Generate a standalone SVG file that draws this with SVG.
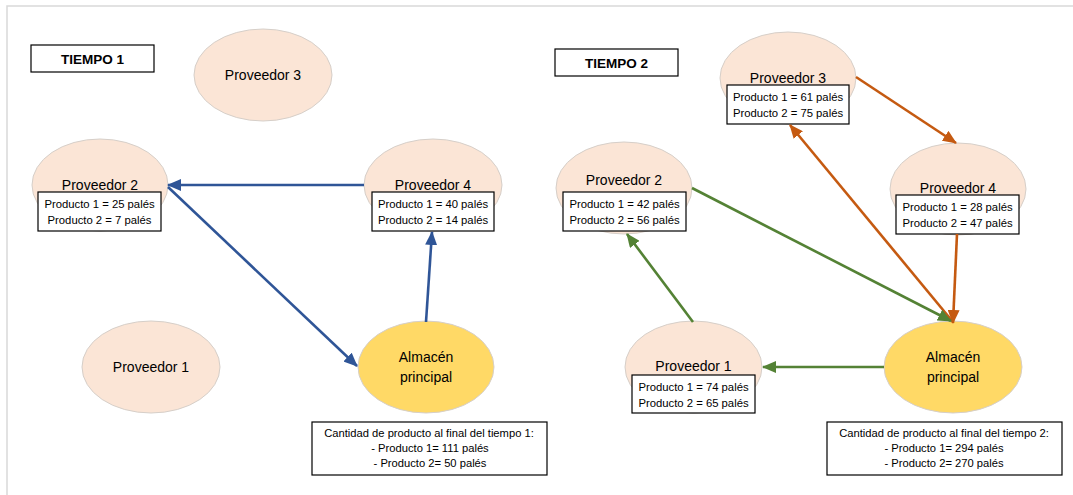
<svg xmlns="http://www.w3.org/2000/svg" width="1073" height="495" viewBox="0 0 1073 495">
<style>
.bg{fill:#ffffff}
.frame{fill:none;stroke:#d9d9d9;stroke-width:1.5}
.sup{fill:#FBE5D6;stroke:#d6cfc9;stroke-width:1}
.alm{fill:#FFD966;stroke:#d6cfc9;stroke-width:1}
.box{fill:#ffffff;stroke:#000000;stroke-width:1.2}
.t{font-family:"Liberation Sans",Arial,sans-serif;fill:#000;text-anchor:middle}
.lbl{font-size:14px}
.small{font-size:11.3px}
.sum{font-size:11.2px}
.title{font-size:13.5px;font-weight:bold}
.blue{stroke:#2F5597;stroke-width:2.6;fill:none}
.green{stroke:#548235;stroke-width:2.6;fill:none}
.orange{stroke:#C55A11;stroke-width:2.6;fill:none}
</style>
<defs>
<marker id="mb" markerWidth="14" markerHeight="12" refX="13" refY="6" orient="auto" markerUnits="userSpaceOnUse"><path d="M0,0 L14,6 L0,12 Z" fill="#2F5597"/></marker>
<marker id="mg" markerWidth="14" markerHeight="12" refX="13" refY="6" orient="auto" markerUnits="userSpaceOnUse"><path d="M0,0 L14,6 L0,12 Z" fill="#548235"/></marker>
<marker id="mo" markerWidth="14" markerHeight="12" refX="13" refY="6" orient="auto" markerUnits="userSpaceOnUse"><path d="M0,0 L14,6 L0,12 Z" fill="#C55A11"/></marker>
</defs>
<rect class="bg" x="0" y="0" width="1073" height="495"/>
<path class="frame" d="M7,500 L7,6 L1080,6"/>

<!-- TIEMPO 1 -->
<g id="t1-title"><rect class="box" x="31" y="45" width="123" height="27"/><text class="t title" x="92.5" y="63.5">TIEMPO 1</text></g>
<g id="t1-p3"><ellipse class="sup" cx="263" cy="75" rx="69" ry="46"/><text class="t lbl" x="263" y="80">Proveedor 3</text></g>
<g id="t1-p2"><ellipse class="sup" cx="100" cy="185" rx="68" ry="46"/><text class="t lbl" x="100" y="190">Proveedor 2</text>
<rect class="box" x="38" y="192" width="123" height="39"/><text class="t small" x="99.5" y="208">Producto 1 = 25 palés</text><text class="t small" x="99.5" y="224">Producto 2 = 7 palés</text></g>
<g id="t1-p4"><ellipse class="sup" cx="433" cy="185" rx="69" ry="46"/><text class="t lbl" x="433" y="190">Proveedor 4</text>
<rect class="box" x="372" y="192" width="122" height="39"/><text class="t small" x="433" y="208">Producto 1 = 40 palés</text><text class="t small" x="433" y="224">Producto 2 = 14 palés</text></g>
<g id="t1-p1"><ellipse class="sup" cx="151" cy="367" rx="69" ry="46"/><text class="t lbl" x="151" y="372">Proveedor 1</text></g>
<g id="t1-alm"><ellipse class="alm" cx="426" cy="367" rx="68" ry="46"/><text class="t lbl" x="426" y="362">Almacén</text><text class="t lbl" x="426" y="382">principal</text></g>
<g id="t1-sum"><rect class="box" x="312" y="422" width="235" height="53"/>
<text class="t sum" x="429" y="437">Cantidad de producto al final del tiempo 1:</text>
<text class="t sum" x="430" y="452">- Producto 1= 111 palés</text>
<text class="t sum" x="430" y="467">- Producto 2= 50 palés</text></g>

<!-- TIEMPO 2 -->
<g id="t2-title"><rect class="box" x="555" y="49" width="123" height="27"/><text class="t title" x="616.5" y="67.5">TIEMPO 2</text></g>
<g id="t2-p3"><ellipse class="sup" cx="788" cy="78" rx="68" ry="46"/><text class="t lbl" x="788" y="83">Proveedor 3</text>
<rect class="box" x="727" y="85" width="122" height="39"/><text class="t small" x="788" y="101">Producto 1 = 61 palés</text><text class="t small" x="788" y="117">Producto 2 = 75 palés</text></g>
<g id="t2-p2"><ellipse class="sup" cx="624" cy="188" rx="68" ry="46"/><text class="t lbl" x="624" y="185">Proveedor 2</text>
<rect class="box" x="563" y="192" width="123" height="39"/><text class="t small" x="624.5" y="208">Producto 1 = 42 palés</text><text class="t small" x="624.5" y="224">Producto 2 = 56 palés</text></g>
<g id="t2-p4"><ellipse class="sup" cx="958" cy="189" rx="68" ry="46"/><text class="t lbl" x="958" y="193">Proveedor 4</text>
<rect class="box" x="896" y="195" width="123" height="39"/><text class="t small" x="957.5" y="211">Producto 1 = 28 palés</text><text class="t small" x="957.5" y="227">Producto 2 = 47 palés</text></g>
<g id="t2-p1"><ellipse class="sup" cx="693.5" cy="367" rx="68.5" ry="46"/><text class="t lbl" x="693.5" y="371">Proveedor 1</text>
<rect class="box" x="632" y="375" width="123" height="38"/><text class="t small" x="693.5" y="391">Producto 1 = 74 palés</text><text class="t small" x="693.5" y="407">Producto 2 = 65 palés</text></g>
<g id="t2-alm"><ellipse class="alm" cx="953" cy="367" rx="69" ry="46"/><text class="t lbl" x="953" y="362">Almacén</text><text class="t lbl" x="953" y="382">principal</text></g>
<g id="t2-sum"><rect class="box" x="827" y="422" width="235" height="53"/>
<text class="t sum" x="944" y="437">Cantidad de producto al final del tiempo 2:</text>
<text class="t sum" x="944" y="452">- Producto 1= 294 palés</text>
<text class="t sum" x="944" y="467">- Producto 2= 270 palés</text></g>

<!-- connectors -->
<g id="connectors">
<line class="blue" x1="364" y1="185" x2="168" y2="185" marker-end="url(#mb)"/>
<line class="blue" x1="168" y1="187" x2="357" y2="366" marker-end="url(#mb)"/>
<line class="blue" x1="426" y1="322" x2="432" y2="232" marker-end="url(#mb)"/>
<line class="orange" x1="856" y1="77" x2="956" y2="143" marker-end="url(#mo)"/>
<line class="orange" x1="953" y1="322" x2="790" y2="125" marker-end="url(#mo)"/>
<line class="orange" x1="957" y1="234" x2="953" y2="323" marker-end="url(#mo)"/>
<line class="green" x1="692" y1="188" x2="951" y2="321" marker-end="url(#mg)"/>
<line class="green" x1="693" y1="322" x2="627" y2="234" marker-end="url(#mg)"/>
<line class="green" x1="884" y1="367" x2="763" y2="367" marker-end="url(#mg)"/>
</g>
</svg>
